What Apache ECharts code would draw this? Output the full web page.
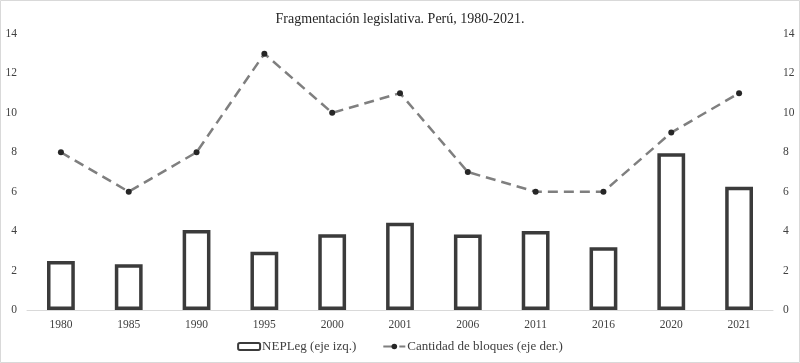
<!DOCTYPE html>
<html>
<head>
<meta charset="utf-8">
<script src="https://cdn.jsdelivr.net/npm/echarts@6/dist/echarts.min.js"></script>
<style>html,body{margin:0;padding:0;background:#fff}#c{width:800px;height:363px}</style>
</head>
<body>
<div id="c"></div>
<script>
var categories = ['1980','1985','1990','1995','2000','2001','2006','2011','2016','2020','2021'];
var nepleg = [2.49, 2.32, 4.06, 2.96, 3.84, 4.42, 3.83, 4.01, 3.18, 7.95, 6.25];
var bloques = [8, 6, 8, 13, 10, 11, 7, 6, 6, 9, 11];
var titleText = 'Fragmentación legislativa. Perú, 1980-2021.';
var barName = 'NEPLeg (eje izq.)';
var lineName = 'Cantidad de bloques (eje der.)';

var FONT = 'Liberation Serif';
var chart = echarts.init(document.getElementById('c'), null, {renderer: 'canvas'});
var yAxisCommon = {
  type: 'value', min: 0, max: 14, interval: 2,
  axisLine: {show: false}, axisTick: {show: false}, splitLine: {show: false},
  axisLabel: {color: '#404040', fontFamily: FONT, fontSize: 11.5, margin: 10}
};
chart.setOption({
  animation: false,
  backgroundColor: '#fff',
  textStyle: {fontFamily: FONT},
  title: {
    text: titleText, left: 'center', top: 7,
    textStyle: {fontFamily: FONT, fontSize: 14, fontWeight: 'normal', color: '#262626'}
  },
  graphic: [{
    type: 'rect', shape: {x: 0.5, y: 0.5, width: 799, height: 362},
    style: {fill: 'none', stroke: '#d9d9d9', lineWidth: 1}, silent: true, z: -1
  }],
  legend: {
    bottom: 5, left: 'center', itemGap: 26, itemWidth: 22, itemHeight: 7,
    textStyle: {fontFamily: FONT, fontSize: 13, color: '#404040', padding: [0, 0, 0, -3]},
    data: [{name: barName}, {name: lineName}]
  },
  grid: {left: 27, right: 27, top: 34, bottom: 53, containLabel: false},
  xAxis: {
    type: 'category', data: categories,
    axisLine: {show: true, lineStyle: {color: '#d9d9d9', width: 1}},
    axisTick: {show: false},
    axisLabel: {color: '#404040', fontFamily: FONT, fontSize: 11.5, margin: 9}
  },
  yAxis: [
    Object.assign({}, yAxisCommon, {position: 'left'}),
    Object.assign({}, yAxisCommon, {position: 'right'})
  ],
  series: [
    {
      name: barName, type: 'bar', yAxisIndex: 0, data: nepleg, barWidth: '41%',
      itemStyle: {color: '#ffffff', borderColor: '#3b3b3b', borderWidth: 3.5}
    },
    {
      name: lineName, type: 'line', yAxisIndex: 1, data: bloques,
      symbol: 'circle', symbolSize: 6,
      lineStyle: {color: '#7f7f7f', width: 2.5, type: [10, 6]},
      itemStyle: {color: '#262626', borderWidth: 0}
    }
  ]
});
</script>
</body>
</html>
